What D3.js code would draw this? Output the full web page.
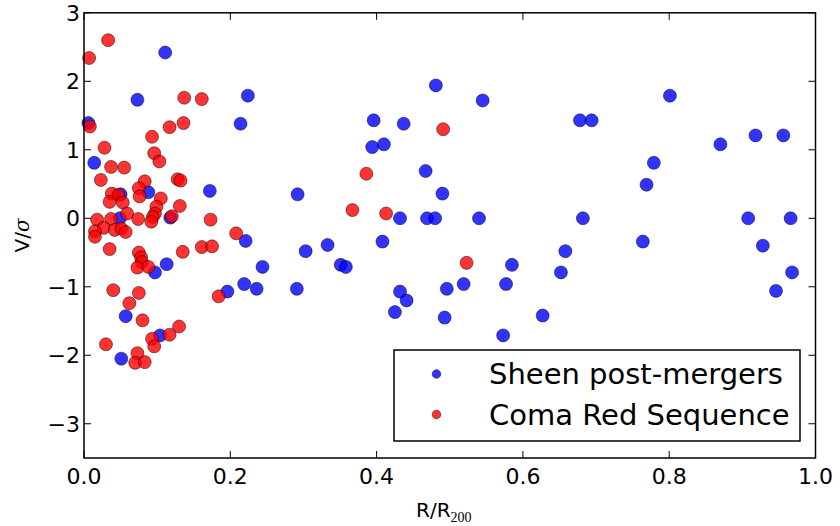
<!DOCTYPE html>
<html><head><meta charset="utf-8">
<script src="https://cdn.jsdelivr.net/npm/d3@7"></script>
<style>body{margin:0;background:#fff;} svg{display:block;font-family:"DejaVu Sans",sans-serif;}</style>
</head><body>
<script>
const sheenR = [0.111,0.073,0.224,0.006,0.214,0.014,0.172,0.088,0.050,0.118,0.049,0.221,0.097,0.113,0.244,0.057,0.196,0.219,0.236,0.104,0.051,
0.481,0.545,0.396,0.437,0.394,0.410,0.467,0.292,0.490,0.432,0.469,0.480,0.540,
0.303,0.333,0.408,0.351,0.358,0.291,0.585,0.432,0.441,0.425,0.496,0.519,0.577,0.493,0.573,0.627,
0.801,0.678,0.694,0.870,0.918,0.956,0.779,0.769,0.682,0.908,0.966,0.764,0.658,0.652,0.928,0.968,0.946];
const sheenV = [2.42,1.73,1.79,1.39,1.38,0.81,0.40,0.38,0.35,0.01,0.00,-0.33,-0.79,-0.67,-0.71,-1.43,-1.07,-0.96,-1.03,-1.71,-2.05,
1.94,1.72,1.43,1.38,1.04,1.08,0.69,0.35,0.36,0.00,0.00,0.00,0.00,
-0.48,-0.39,-0.34,-0.68,-0.71,-1.03,-0.68,-1.07,-1.20,-1.37,-1.03,-0.96,-0.96,-1.45,-1.71,-1.42,
1.79,1.43,1.43,1.08,1.21,1.21,0.81,0.49,0.00,0.00,0.00,-0.34,-0.48,-0.79,-0.40,-0.79,-1.06];
const comaR = [0.033,0.007,0.137,0.161,0.008,0.117,0.136,0.093,0.028,0.096,0.103,0.037,0.055,0.023,0.083,0.128,0.132,0.075,0.038,0.047,0.076,0.105,0.035,0.053,0.099,0.131,0.059,0.097,0.120,0.037,0.074,0.094,0.092,0.018,0.173,0.027,0.015,0.042,0.051,0.057,0.015,0.208,0.035,0.075,0.078,0.079,0.073,0.088,0.135,0.161,0.175,0.040,0.075,0.062,0.080,0.184,0.130,0.117,0.093,0.096,0.030,0.073,0.070,0.083,
0.491,0.386,0.367,0.413,0.523];
const comaV = [2.60,2.34,1.76,1.74,1.34,1.33,1.39,1.19,1.03,0.95,0.83,0.75,0.74,0.56,0.54,0.57,0.55,0.44,0.36,0.34,0.32,0.29,0.24,0.23,0.17,0.18,0.07,0.07,0.03,-0.01,-0.01,0.02,-0.05,-0.02,-0.02,-0.14,-0.19,-0.17,-0.15,-0.20,-0.27,-0.22,-0.45,-0.50,-0.57,-0.64,-0.72,-0.71,-0.49,-0.42,-0.41,-1.05,-1.09,-1.24,-1.49,-1.14,-1.58,-1.70,-1.76,-1.87,-1.84,-1.97,-2.11,-2.10,
1.30,0.65,0.12,0.07,-0.65];
const xTicks = [0.0,0.2,0.4,0.6,0.8,1.0];
const yTicks = [-3,-2,-1,0,1,2,3];
const seriesNames = ["Sheen post-mergers","Coma Red Sequence"];
const seriesColors = ["#0000ff","#ff0000"];

const W = 840, H = 526;
const L = 84, R = 815.5, T = 12.8, B = 458;
const svg = d3.select("body").append("svg").attr("width",W).attr("height",H);
const x = d3.scaleLinear().domain([0,1]).range([L,R]);
const y = d3.scaleLinear().domain([-3.5,3]).range([B,T]);

const minus = s => s.replace("-","\u2212");

// points
const groups = [[sheenR,sheenV],[comaR,comaV]];
groups.forEach(([xs,ys],i)=>{
  svg.append("g").selectAll("circle").data(xs.map((d,j)=>[d,ys[j]])).join("circle")
    .attr("cx",d=>x(d[0])).attr("cy",d=>y(d[1])).attr("r",6.5)
    .attr("fill",seriesColors[i]).attr("fill-opacity",0.8)
    .attr("stroke","#000").attr("stroke-opacity",0.8).attr("stroke-width",0.6);
});

// ticks inside on all four sides
const tk = svg.append("g").attr("stroke","#000").attr("stroke-width",1);
xTicks.forEach(v=>{
  tk.append("line").attr("x1",x(v)).attr("x2",x(v)).attr("y1",B).attr("y2",B-7);
  tk.append("line").attr("x1",x(v)).attr("x2",x(v)).attr("y1",T).attr("y2",T+7);
});
yTicks.forEach(v=>{
  tk.append("line").attr("x1",L).attr("x2",L+7).attr("y1",y(v)).attr("y2",y(v));
  tk.append("line").attr("x1",R).attr("x2",R-7).attr("y1",y(v)).attr("y2",y(v));
});

// frame
svg.append("rect").attr("x",L).attr("y",T).attr("width",R-L).attr("height",B-T)
  .attr("fill","none").attr("stroke","#000").attr("stroke-width",1.5);

// tick labels
svg.append("g").selectAll("text").data(xTicks).join("text")
  .attr("x",d=>x(d)).attr("y",484).attr("text-anchor","middle")
  .attr("font-size",22).text(d=>d.toFixed(1));
svg.append("g").selectAll("text").data(yTicks).join("text")
  .attr("x",L-4).attr("y",d=>y(d)+8).attr("text-anchor","end")
  .attr("font-size",22).text(d=>minus(String(d)));

// axis labels
const xl = svg.append("text").attr("x",416).attr("y",516.5).attr("font-size",20);
xl.append("tspan").text("R/R");
xl.append("tspan").attr("font-size",14).attr("dy",5).attr("font-family","'Liberation Serif',serif").text("200");

const yl = svg.append("text").attr("transform",`translate(29,${(T+B)/2}) rotate(-90)`)
  .attr("text-anchor","middle").attr("font-size",20);
yl.append("tspan").text("V/");
yl.append("tspan").attr("font-style","italic").attr("font-family","'DejaVu Serif',serif").text("\u03c3");

// legend
const lg = svg.append("g");
lg.append("rect").attr("x",394).attr("y",350).attr("width",406).attr("height",91)
  .attr("fill","#fff").attr("stroke","#000").attr("stroke-width",1.5);
seriesNames.forEach((n,i)=>{
  const cy = 374 + i*40.5;
  lg.append("circle").attr("cx",436.5).attr("cy",cy).attr("r",4.3)
    .attr("fill",seriesColors[i]).attr("fill-opacity",0.8)
    .attr("stroke","#000").attr("stroke-opacity",0.8).attr("stroke-width",0.6);
  lg.append("text").attr("x",489).attr("y",cy+10).attr("font-size",29).text(n);
});
</script>
</body></html>
